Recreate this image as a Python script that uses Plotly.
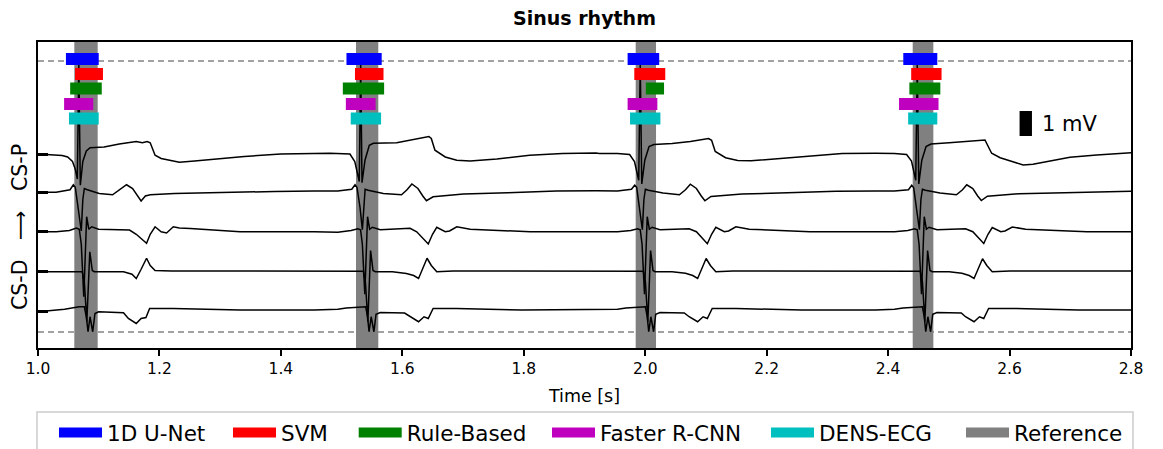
import plotly.graph_objects as go

# ---------------- data ----------------
# time axis / ticks
X_TICKS = [1.0, 1.2, 1.4, 1.6, 1.8, 2.0, 2.2, 2.4, 2.6, 2.8]
X_TICK_TEXT = ["1.0", "1.2", "1.4", "1.6", "1.8", "2.0", "2.2", "2.4", "2.6", "2.8"]

# channel baselines in mV (top = CS-P, bottom = CS-D)
CH_OFFSET_MV = [7.76, 6.23, 4.65, 3.05, 1.45]

# beat fiducial times (s) -> each beat's samples are given in ms relative to it
BEAT_T0_S = [1.0598, 1.5237, 1.9843, 2.4405]

# [ms, mV] samples per beat for each channel
CH1_BEATS = [
    [[-60, 0.0], [-40, -0.03], [-20, -0.06], [-11, -0.12], [-3, -0.3], [1.5, -0.6], [5, -1.0], [7.4, 3.6],
     [9.9, -1.25], [14, -0.3], [19.8, 0.12], [26, 0.25], [49, 0.28], [74, 0.4], [91, 0.45], [102, 0.5],
     [112, 0.45], [120, 0.5], [125, 0.45], [133, -0.05], [143, -0.18], [156, -0.25], [173, -0.33],
     [198, -0.28], [231, -0.2], [280, -0.1], [340, 0.0], [395, 0.02]],
    [[-60, 0.0], [-43, 0.03], [-10, 0.0], [-2, -0.3], [5.4, -1.1], [7.7, 3.6], [9.9, -1.15], [14.8, -0.25],
     [21.9, 0.35], [28.5, 0.43], [67, 0.45], [89, 0.55], [116, 0.67], [120, 0.7], [124, 0.62], [130, 0.15],
     [147, -0.12], [166, -0.25], [188, -0.28], [232, -0.2], [286, -0.05], [340, 0.02], [395, 0.04]],
    [[-60, 0.02], [-30, 0.02], [-10, -0.02], [-2, -0.3], [5, -1.05], [7.5, 3.6], [10, -1.2], [15, -0.25],
     [22, 0.3], [30, 0.38], [60, 0.42], [90, 0.5], [112, 0.6], [120, 0.62], [125, 0.55], [131, 0.1],
     [148, -0.15], [168, -0.26], [190, -0.27], [235, -0.18], [290, -0.05], [340, 0.02], [395, 0.03]],
    [[-60, 0.03], [-30, 0.02], [-10, -0.02], [-2, -0.28], [5, -1.05], [7.5, 3.6], [10, -1.2], [15, -0.25],
     [22, 0.3], [30, 0.4], [60, 0.45], [90, 0.5], [111, 0.56], [119, 0.56], [130, 0.03], [144, -0.15],
     [165, -0.31], [182, -0.44], [198, -0.41], [221, -0.31], [259, -0.13], [303, -0.04], [362, 0.05]],
]
CH2_BEATS = [
    [[-60, 0.0], [-30, 0.0], [-7, 0.1], [-1.6, 0.3], [1.6, 0.2], [6.6, -0.7], [11.5, -1.55], [14, -0.3],
     [16.5, 0.15], [21.4, 0.1], [41, -0.05], [63, -0.1], [74, 0.1], [86, 0.3], [96, 0.15], [104, -0.15],
     [110, -0.35], [117, -0.15], [125, -0.1], [165, -0.05], [247, 0.0], [330, 0.03], [395, 0.05]],
    [[-60, 0.05], [-30, 0.05], [-7, 0.12], [-1.6, 0.3], [1.6, 0.2], [6.6, -0.6], [10.5, -1.5], [13, -0.3],
     [15, 0.12], [20, 0.08], [45, -0.05], [75, -0.1], [84, 0.1], [92, 0.33], [102, 0.15], [110, -0.15],
     [116, -0.34], [127, -0.18], [177, -0.07], [250, -0.02], [330, 0.05], [395, 0.06]],
    [[-60, 0.06], [-30, 0.05], [-7, 0.12], [-1.6, 0.28], [1.6, 0.2], [6.6, -0.65], [11, -1.5], [13.5, -0.3],
     [16, 0.12], [21, 0.08], [45, -0.03], [72, -0.1], [82, 0.1], [90, 0.32], [100, 0.15], [108, -0.15],
     [114, -0.34], [124, -0.17], [175, -0.07], [250, -0.02], [330, 0.04], [395, 0.05]],
    [[-60, 0.05], [-30, 0.05], [-7, 0.1], [-1.6, 0.28], [1.6, 0.18], [6.6, -0.65], [11, -1.5], [13.5, -0.3],
     [16, 0.12], [21, 0.08], [45, -0.03], [72, -0.1], [82, 0.1], [89, 0.3], [99, 0.15], [107, -0.15],
     [113, -0.33], [123, -0.16], [175, -0.06], [250, -0.02], [362, 0.04]],
]
CH3_BEATS = [
    [[-60, 0.0], [-30, 0.0], [-8, 0.05], [3.3, 0.15], [8.2, 0.1], [11.5, -0.5], [15.6, -2.6], [20.3, 0.6],
     [23.9, 0.1], [28.7, 0.2], [40, 0.1], [91, 0.07], [102, -0.1], [112, -0.3], [119, -0.46], [125, -0.1],
     [133, 0.2], [143, 0.0], [152, -0.05], [163, 0.2], [173, 0.15], [191, 0.13], [273, 0.0], [395, 0.0]],
    [[-60, 0.0], [-30, -0.02], [-8, 0.05], [3, 0.12], [7.5, 0.08], [10.5, -0.5], [14.5, -2.5], [19, 0.6],
     [22.5, 0.1], [27, 0.18], [40, 0.08], [89, 0.14], [100, 0.0], [110, -0.25], [119, -0.49], [126, -0.1],
     [133, 0.18], [147, 0.0], [154, 0.03], [166, 0.2], [188, 0.1], [287, 0.0], [395, 0.0]],
    [[-60, 0.0], [-30, 0.0], [-8, 0.05], [3, 0.12], [7.5, 0.08], [10.5, -0.5], [14.5, -2.5], [19, 0.6],
     [22.5, 0.1], [27, 0.18], [40, 0.08], [88, 0.12], [100, 0.0], [110, -0.25], [118, -0.48], [125, -0.1],
     [132, 0.18], [146, 0.0], [153, 0.03], [165, 0.2], [187, 0.1], [287, 0.0], [395, 0.0]],
    [[-60, 0.0], [-30, 0.0], [-8, 0.05], [3, 0.12], [7.5, 0.08], [10.5, -0.5], [14.5, -2.5], [19, 0.6],
     [22.5, 0.1], [27, 0.18], [40, 0.08], [87, 0.12], [99, 0.0], [109, -0.25], [117, -0.47], [124, -0.1],
     [131, 0.17], [145, 0.0], [152, 0.03], [164, 0.19], [186, 0.1], [287, 0.0], [362, 0.0]],
]
CH4_BEATS = [
    [[-60, 0.0], [-30, 0.0], [0, 0.0], [13, 0.0], [16.5, -0.4], [20.6, -2.0], [25.5, 0.8], [29.6, 0.05],
     [33, 0.0], [60, 0.0], [81, 0.0], [95, -0.1], [102, -0.27], [110, 0.1], [119, 0.54], [125, 0.25],
     [133, 0.05], [160, 0.03], [250, 0.02], [395, 0.02]],
    [[-60, 0.02], [-30, 0.02], [0, 0.02], [12, 0.02], [15.5, -0.4], [19.5, -2.0], [24, 0.85], [28, 0.05],
     [32, 0.0], [60, 0.0], [83, -0.07], [95, -0.15], [103, -0.27], [110, 0.1], [117, 0.54], [124, 0.25],
     [133, 0.0], [160, 0.03], [250, 0.03], [395, 0.03]],
    [[-60, 0.02], [-30, 0.02], [0, 0.02], [12.5, 0.02], [16, -0.4], [20, -2.0], [24.5, 0.85], [28.5, 0.05],
     [32, 0.0], [60, 0.0], [82, -0.06], [94, -0.15], [102, -0.27], [109, 0.1], [116, 0.53], [123, 0.25],
     [132, 0.0], [160, 0.03], [250, 0.03], [395, 0.03]],
    [[-60, 0.03], [-30, 0.02], [0, 0.02], [12.5, 0.02], [16, -0.4], [20, -2.0], [24.5, 0.85], [28.5, 0.05],
     [32, 0.0], [60, 0.0], [81, -0.06], [93, -0.15], [101, -0.27], [108, 0.1], [115, 0.52], [122, 0.25],
     [131, 0.0], [160, 0.03], [250, 0.03], [362, 0.03]],
]
CH5_BEATS = [
    [[-60, 0.0], [-30, 0.05], [-16, 0.1], [8, 0.2], [16.5, 0.2], [19.8, -0.2], [22.6, -0.8], [25.9, -0.2],
     [30.3, -0.8], [34, -0.07], [40, 0.0], [81, -0.04], [89, -0.27], [102, -0.47], [110, -0.27],
     [118, -0.23], [124, 0.13], [163, 0.13], [273, 0.07], [395, 0.07]],
    [[-60, 0.07], [-30, 0.1], [-16, 0.15], [8, 0.2], [16, 0.2], [19, -0.2], [21.5, -0.8], [25, -0.2],
     [29.5, -0.8], [33, -0.1], [40, -0.03], [80, -0.05], [89, -0.2], [103, -0.4], [112, -0.2],
     [119, -0.27], [127, 0.13], [165, 0.13], [273, 0.07], [395, 0.07]],
    [[-60, 0.07], [-30, 0.1], [-16, 0.15], [8, 0.2], [16, 0.2], [19, -0.2], [21.5, -0.8], [25, -0.2],
     [29.5, -0.8], [33, -0.1], [40, -0.03], [80, -0.05], [88, -0.2], [102, -0.4], [111, -0.2],
     [118, -0.27], [126, 0.13], [165, 0.13], [273, 0.07], [395, 0.07]],
    [[-60, 0.07], [-30, 0.1], [-16, 0.15], [8, 0.2], [16, 0.2], [19, -0.2], [21.5, -0.8], [25, -0.2],
     [29.5, -0.8], [33, -0.1], [40, -0.03], [80, -0.05], [87, -0.2], [101, -0.4], [110, -0.2],
     [117, -0.27], [125, 0.13], [165, 0.13], [273, 0.07], [362, 0.07]],
]
CHANNELS = [CH1_BEATS, CH2_BEATS, CH3_BEATS, CH4_BEATS, CH5_BEATS]

# reference annotation (gray bands), seconds
REF_START = [1.0598, 1.5237, 1.9843, 2.4405]
REF_END = [1.0983, 1.5604, 2.0178, 2.4745]

# detections of each method (start, end in seconds)
METHOD_NAMES = ["1D U-Net", "SVM", "Rule-Based", "Faster R-CNN", "DENS-ECG"]
METHOD_COLORS = ["#0000ff", "#ff0000", "#008000", "#bf00bf", "#00bfbf"]
UNET_START = [1.046, 1.508, 1.971, 2.425]
UNET_END = [1.100, 1.566, 2.023, 2.481]
SVM_START = [1.061, 1.522, 1.982, 2.438]
SVM_END = [1.107, 1.569, 2.033, 2.488]
RULE_START = [1.053, 1.502, 2.001, 2.435]
RULE_END = [1.105, 1.570, 2.031, 2.486]
FRCNN_START = [1.043, 1.507, 1.971, 2.418]
FRCNN_END = [1.091, 1.556, 2.020, 2.483]
DENS_START = [1.051, 1.515, 1.975, 2.433]
DENS_END = [1.100, 1.565, 2.025, 2.481]
METHOD_STARTS = [UNET_START, SVM_START, RULE_START, FRCNN_START, DENS_START]
METHOD_ENDS = [UNET_END, SVM_END, RULE_END, FRCNN_END, DENS_END]
METHOD_ROW_MV = [11.56, 10.96, 10.38, 9.76, 9.18]

# window limits (dashed lines), mV
DASH_LEVELS_MV = [11.48, 0.64]
# scale bar
SCALE_T = [2.6165, 2.6369]
SCALE_BASE_MV = 8.48
SCALE_LEN_MV = 1.0

Y_RANGE = [0.0, 12.24]
X_RANGE = [1.0, 2.8]

# ---------------- figure ----------------
FONT = "DejaVu Sans"
W, H = 1163, 449
ML, MR, MT, MB = 38, 32, 42, 101
PW = W - ML - MR
PH = H - MT - MB
ROW_HALF = 0.24


def px_x(px):
    return (px - ML) / PW


def px_y(py):
    return (H - MB - py) / PH


fig = go.Figure()

# dashed window lines (below everything)
for lvl in DASH_LEVELS_MV:
    fig.add_shape(type="line", xref="x domain", yref="y", x0=0, x1=1, y0=lvl, y1=lvl,
                  line=dict(color="#444444", width=1, dash="6px,4px"), layer="below")

# reference bands
for s, e in zip(REF_START, REF_END):
    fig.add_shape(type="rect", xref="x", yref="y domain", x0=s, x1=e, y0=0, y1=1,
                  fillcolor="#808080", line=dict(width=0), layer="below")

# EGM traces
for off, beats in zip(CH_OFFSET_MV, CHANNELS):
    xs, ys = [], []
    for t0, pts in zip(BEAT_T0_S, beats):
        for ms, mv in pts:
            xs.append(t0 + ms / 1000.0)
            ys.append(off + mv)
    fig.add_trace(go.Scatter(x=xs, y=ys, mode="lines", line=dict(color="black", width=1.5),
                             showlegend=False, hoverinfo="skip"))

# detection bars (drawn above traces)
for name, col, starts, ends, row in zip(METHOD_NAMES, METHOD_COLORS, METHOD_STARTS, METHOD_ENDS,
                                        METHOD_ROW_MV):
    xs, ys = [], []
    for s, e in zip(starts, ends):
        xs += [s, e, e, s, s, None]
        ys += [row - ROW_HALF, row - ROW_HALF, row + ROW_HALF, row + ROW_HALF, row - ROW_HALF, None]
    fig.add_trace(go.Scatter(x=xs, y=ys, mode="lines", fill="toself", fillcolor=col,
                             line=dict(width=0, color=col), showlegend=False, legendgroup=name,
                             hoverinfo="skip"))

# legend entries, one legend each so they sit where the reference places them
LEG_NAMES = METHOD_NAMES + ["Reference"]
LEG_COLORS = METHOD_COLORS + ["#808080"]
LEG_TEXT_PX = [113, 287, 412.7, 606, 825, 1020]
for i, (name, col, tx) in enumerate(zip(LEG_NAMES, LEG_COLORS, LEG_TEXT_PX)):
    key = "legend" if i == 0 else f"legend{i + 1}"
    fig.add_trace(go.Scatter(x=[None], y=[None], mode="lines", line=dict(color=col, width=12),
                             name=name, legendgroup=name, legend=key, showlegend=True))
    fig.update_layout({key: dict(x=px_x(tx - 59), y=px_y(412), xanchor="left", yanchor="top",
                                 orientation="h", bgcolor="rgba(0,0,0,0)", borderwidth=0,
                                 itemwidth=43,
                                 font=dict(family=FONT, size=21.5, color="black"))})

# legend frame
fig.add_shape(type="rect", xref="paper", yref="paper", x0=px_x(37), x1=px_x(1133),
              y0=px_y(470), y1=px_y(412), line=dict(color="#cccccc", width=1.5),
              fillcolor="rgba(0,0,0,0)", layer="below")

# scale bar
fig.add_shape(type="rect", xref="x", yref="y", x0=SCALE_T[0], x1=SCALE_T[1], y0=SCALE_BASE_MV,
              y1=SCALE_BASE_MV + SCALE_LEN_MV, fillcolor="black", line=dict(width=0))
fig.add_annotation(x=SCALE_T[1] + 0.013, y=SCALE_BASE_MV + SCALE_LEN_MV / 2, xref="x", yref="y",
                   text="1 mV", showarrow=False, xanchor="left", yanchor="middle",
                   font=dict(family=FONT, size=21, color="black"))

# y label
fig.add_annotation(x=px_x(20), y=px_y(227), xref="paper", yref="paper",
                   text="CS-D\u00a0\u00a0\u00a0\u27f6\u00a0\u00a0\u00a0CS-P", textangle=-90, showarrow=False,
                   xanchor="center", yanchor="middle",
                   font=dict(family=FONT, size=20.5, color="black"))

fig.update_layout(
    width=W, height=H,
    margin=dict(l=ML, r=MR, t=MT, b=MB, autoexpand=False),
    paper_bgcolor="white", plot_bgcolor="white",
    font=dict(family=FONT, color="black"),
    title=dict(text="<b>Sinus rhythm</b>", x=0.5, xref="paper", y=1 - 18 / H, yref="container",
               xanchor="center", yanchor="middle", font=dict(family=FONT, size=19, color="black")),
    xaxis=dict(range=X_RANGE, tickvals=X_TICKS, ticktext=X_TICK_TEXT, ticks="outside", ticklen=6,
               tickwidth=1.5, tickcolor="black", showline=True, linecolor="black", linewidth=1.5,
               mirror=True, showgrid=False, zeroline=False, tickfont=dict(size=15.5),
               title=dict(text="Time [s]", font=dict(size=17.5), standoff=12)),
    yaxis=dict(range=Y_RANGE, tickvals=CH_OFFSET_MV, showticklabels=False, ticks="inside", ticklen=10,
               tickwidth=2.5, tickcolor="black", showline=True, linecolor="black", linewidth=1.5,
               mirror=True, showgrid=False, zeroline=False),
)

fig.write_html("out.html")
